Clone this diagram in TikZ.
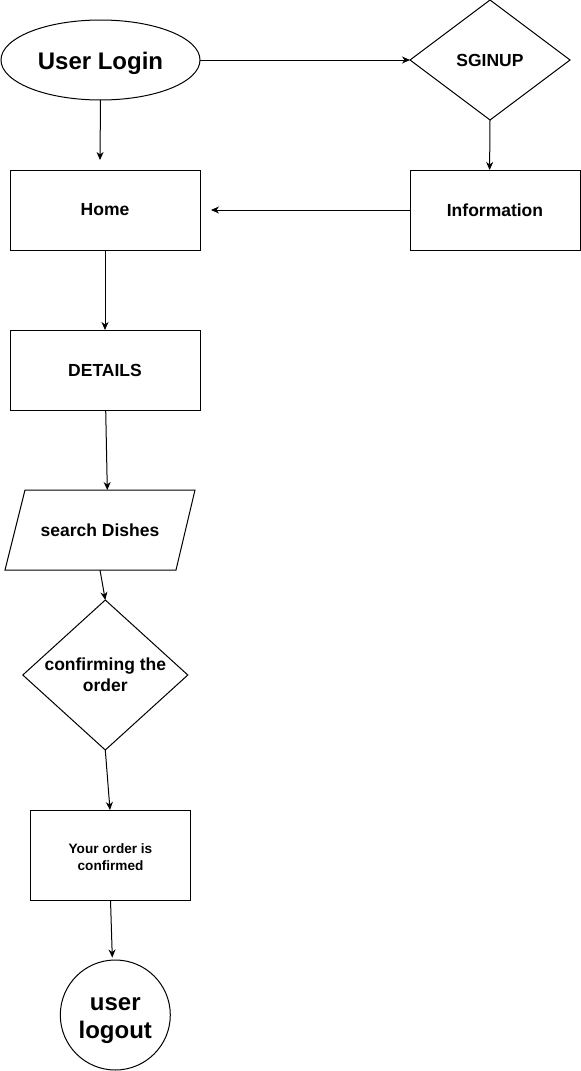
\documentclass[tikz,border=0pt]{standalone}
\usepackage{fontspec}
\setmainfont{Liberation Sans}
\usetikzlibrary{shapes.geometric,arrows.meta,calc}
\begin{document}
\begin{tikzpicture}[x=1pt,y=-1pt,
  every node/.style={inner sep=0pt,outer sep=0pt,font=\bfseries\fontsize{17.5}{21}\selectfont,align=center},
  box/.style={draw,line width=1pt,rectangle,minimum width=#1},
  ghost/.style={rectangle,draw=none},
  edge/.style={line width=1pt,draw,-{Stealth[length=8pt,width=7pt,inset=2.5pt]}},
  outline/.style={line width=1pt,draw}]
\useasboundingbox (0,0) rectangle (581,1071);
% nodes
\node[draw,ellipse,line width=1pt,minimum width=199pt,minimum height=80pt] (login) at (100.5,60) {};
\node[font=\bfseries\fontsize{24}{29}\selectfont] (logintext) at ($(login.center)+(0,3.5)$) {User Login};
\node[ghost,minimum width=160pt,minimum height=120pt] (sgin) at (490,60) {SGINUP};
\node[box=190pt,minimum height=80pt] (home) at (105,210) {Home};
\node[box=170pt,minimum height=80pt] (info) at (495,210) {Information};
\node[box=190pt,minimum height=80pt] (details) at (105,370) {DETAILS};
\node[ghost,minimum width=190pt,minimum height=80pt] (search) at (100,530) {search Dishes};
\node[ghost,minimum width=165pt,minimum height=150pt] (confirm) at (105.3,675) {confirming the\\order};
\node[box=160pt,minimum height=90pt] (conf) at (110.5,855) {};
\node[font=\bfseries\fontsize{13.6}{16.5}\selectfont] (conftext) at ($(conf.center)+(0,2)$) {Your order is\\confirmed};
\node[draw,circle,line width=1pt,minimum size=110pt] (logout) at (115.3,1015) {};
\node[font=\bfseries\fontsize{24}{28.5}\selectfont] (logouttext) at ($(logout.center)+(0,5.5)$) {user\\logout};
% shapes drawn from anchors
\draw[outline] (sgin.north) -- (sgin.east) -- (sgin.south) -- (sgin.west) -- cycle;
\draw[outline] (confirm.north) -- (confirm.east) -- (confirm.south) -- (confirm.west) -- cycle;
\draw[outline] ($(search.north west)+(20,0)$) -- (search.north east) -- ($(search.south east)+(-19,0)$) -- (search.south west) -- cycle;
% connectors
\draw[edge] (login.south) -- ($(home.north)+(-5,-10)$);
\draw[edge] (login.east) -- (sgin.west);
\draw[edge] (sgin.south) -- ($(info.north)+(-5.4,0)$);
\draw[edge] (info.west) -- ($(home.east)+(11,0)$);
\draw[edge] (home.south) -- (details.north);
\draw[edge] ($(details.south)+(0.7,0)$) -- ($(search.north)+(7.3,0)$);
\draw[edge] (search.south) -- (confirm.north);
\draw[edge] (confirm.south) -- ($(conf.north)+(-0.5,0)$);
\draw[edge] (conf.south) -- ($(logout.north)+(-3,-2.5)$);
\end{tikzpicture}
\end{document}
